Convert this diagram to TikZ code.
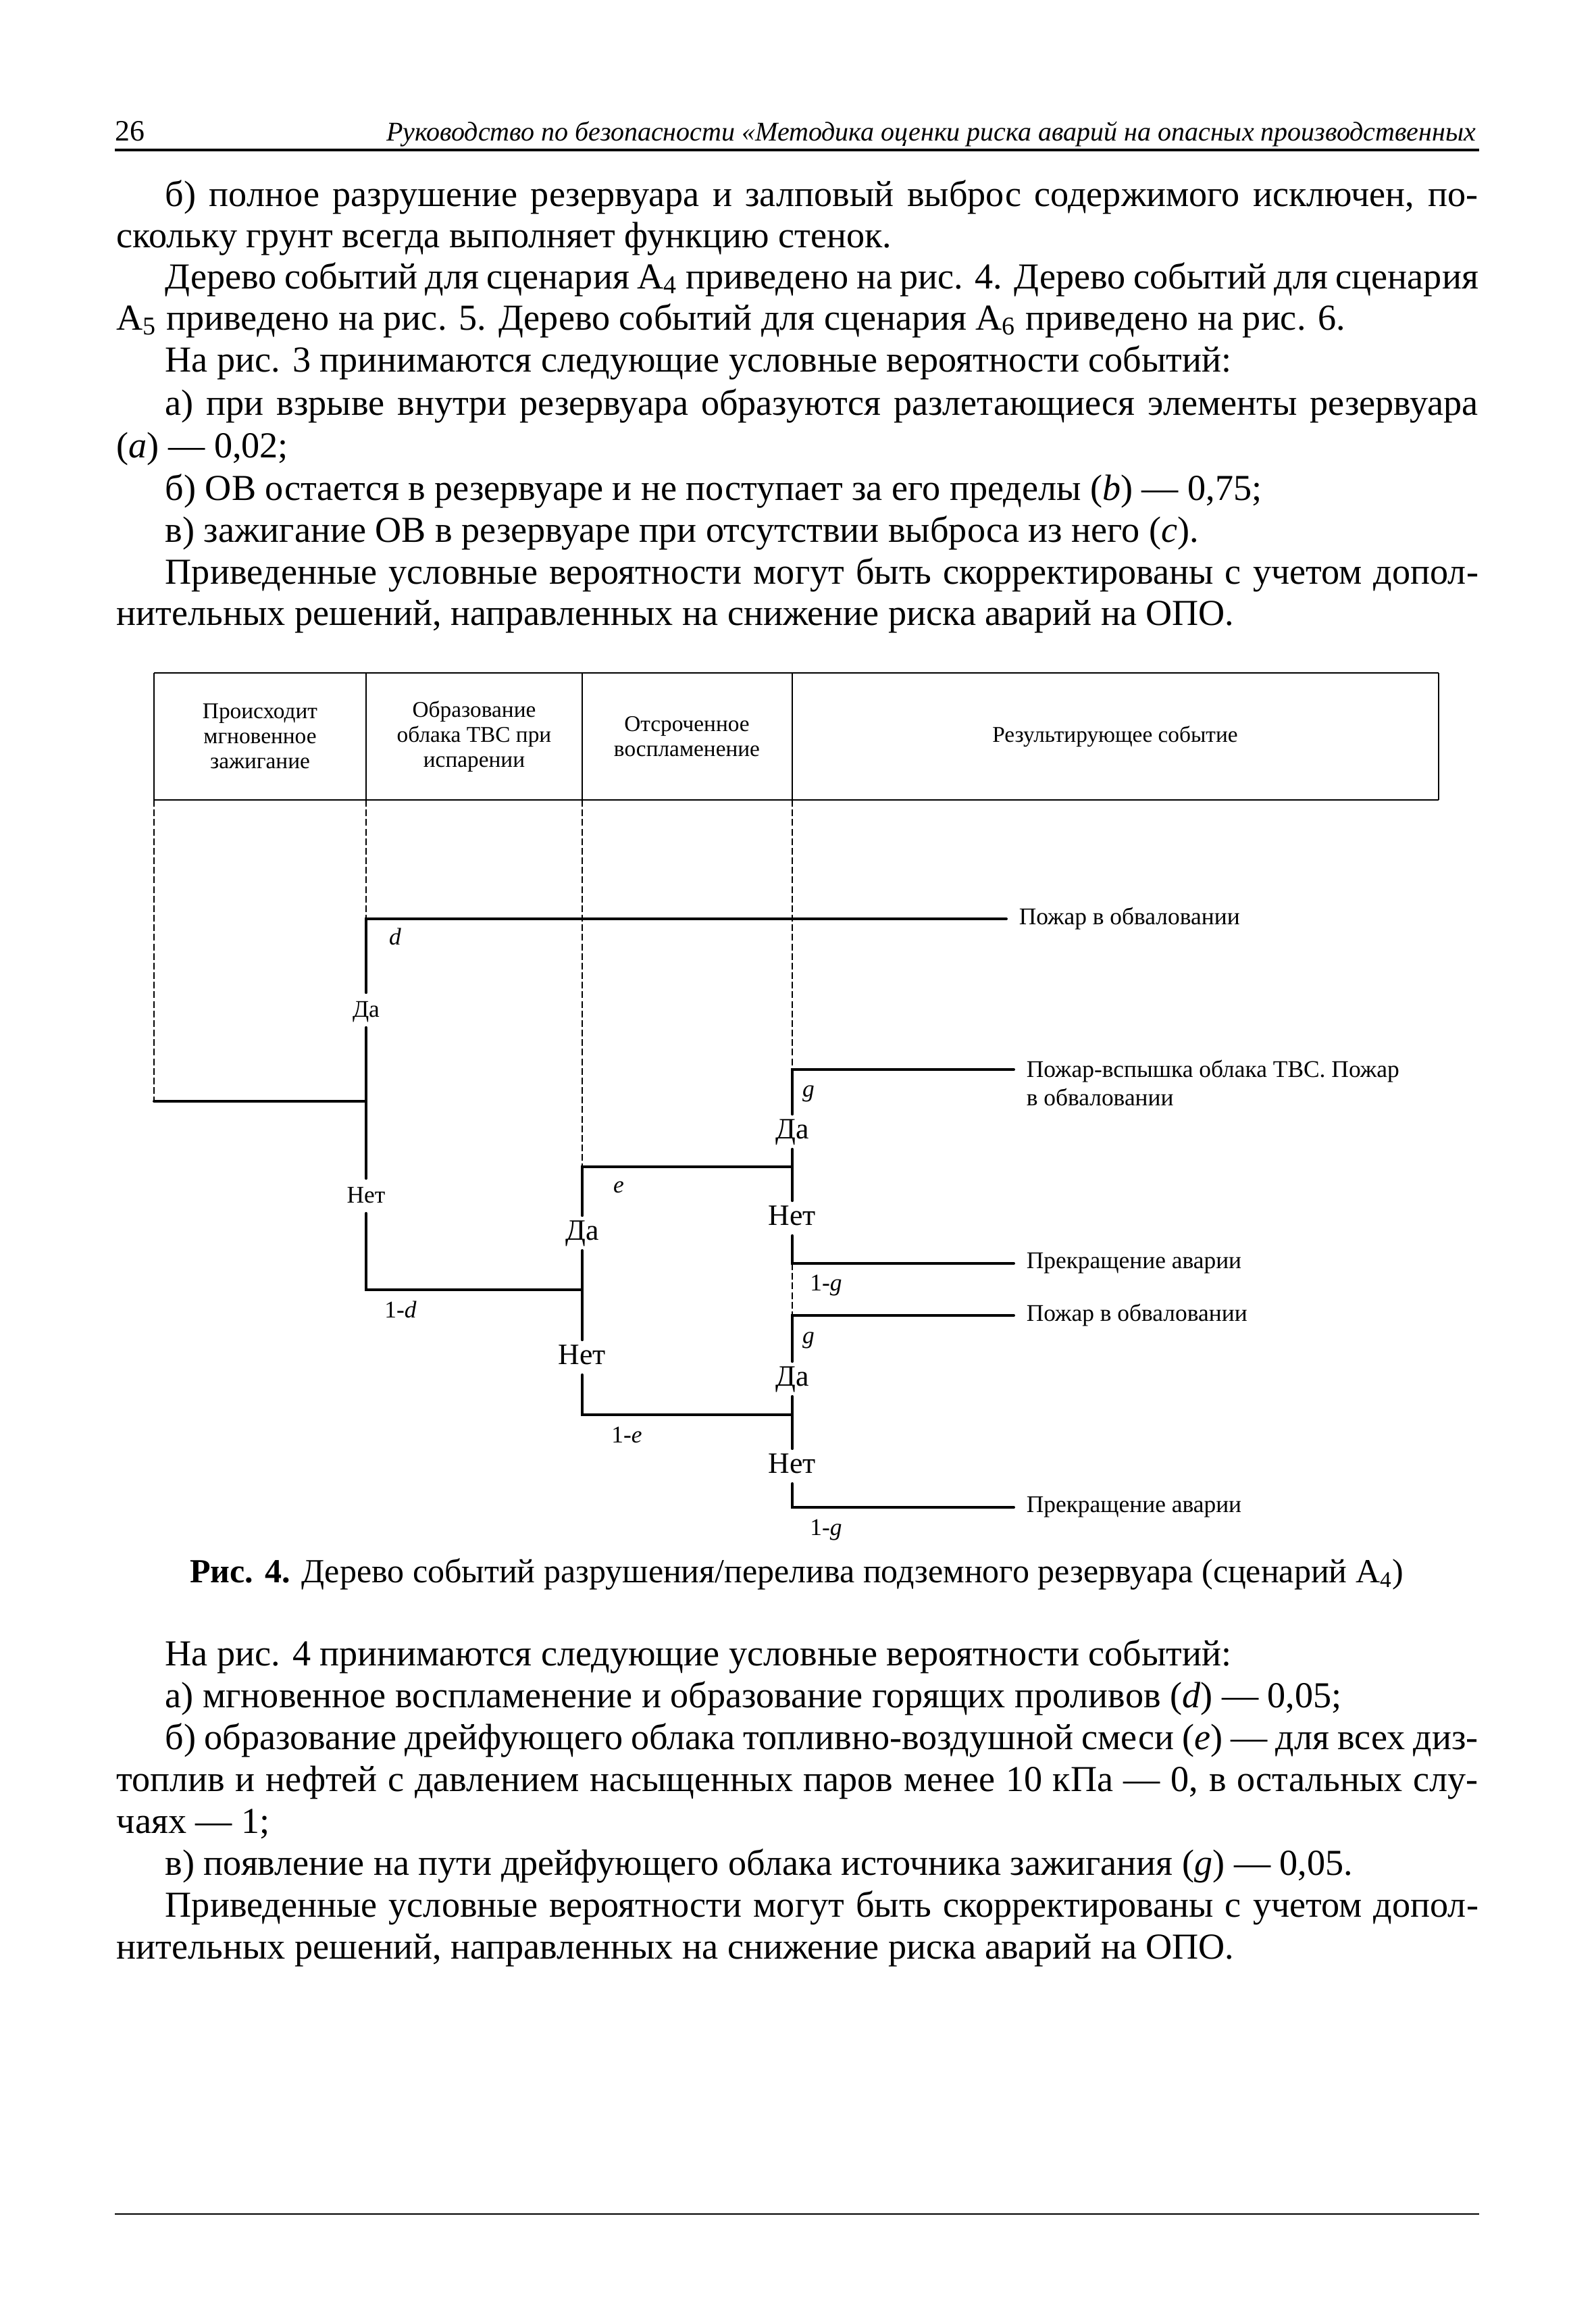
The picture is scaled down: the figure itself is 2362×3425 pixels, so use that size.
\documentclass[tikz,border=0pt]{standalone}
\usepackage{fontspec}
\setmainfont{Liberation Serif}
\newcommand{\fullw}{483.8pt}
\newcommand{\indw}{466.6pt}

\begin{document}
\begin{tikzpicture}[
  x=0.24pt, y=-0.24pt,
  txt/.style={anchor=base west, inner sep=0pt, font=\fontsize{13}{15}\selectfont},
  head/.style={align=center, inner sep=0pt, font=\fontsize{8}{8.9}\selectfont},
  yn/.style={inner sep=1.5pt, text height=0.7em, text depth=0.2em, font=\fontsize{10.5}{12}\selectfont},
  yns/.style={inner sep=1.5pt, text height=0.7em, text depth=0.2em, font=\fontsize{8.5}{10}\selectfont},
  prob/.style={inner sep=0pt, font=\fontsize{8.5}{10}\selectfont},
  res/.style={anchor=west, inner ysep=0pt, inner xsep=4.3pt, align=left, font=\fontsize{8.5}{10}\selectfont},
  branch/.style={line width=0.95pt, line cap=round},
  guide/.style={line width=0.3pt, dash pattern=on 2.4pt off 1pt}
]
\useasboundingbox (0,0) rectangle (2362,3425);

\node[anchor=base west, inner sep=0pt, font=\fontsize{10.5}{12}\selectfont] (pgnum) at (170,208) {26};
\node[anchor=base east, inner sep=0pt, font=\fontsize{9.6}{11}\selectfont\itshape] (runhead) at (2186,208) {Руководство по безопасности «Методика оценки риска аварий на опасных производственных};
\draw[line width=0.8pt] (170,222) -- (2190,222);

\node[txt] (p1) at (244,305) {\makebox[\indw][s]{б) полное разрушение резервуара и залповый выброс содержимого исключен, по-}};
\node[txt] (p2) at (172,366) {скольку грунт всегда выполняет функцию стенок.};
\node[txt] (p3) at (244,427) {\makebox[\indw][s]{Дерево событий для сценария А\textsubscript{4} приведено на рис. 4. Дерево событий для сценария}};
\node[txt] (p4) at (172,488) {А\textsubscript{5} приведено на рис. 5. Дерево событий для сценария А\textsubscript{6} приведено на рис. 6.};
\node[txt] (p5) at (244,550) {На рис. 3 принимаются следующие условные вероятности событий:};
\node[txt] (p6) at (244,614) {\makebox[\indw][s]{а) при взрыве внутри резервуара образуются разлетающиеся элементы резервуара}};
\node[txt] (p7) at (172,677) {(\textit{a}) — 0,02;};
\node[txt] (p8) at (244,740) {б) ОВ остается в резервуаре и не поступает за его пределы (\textit{b}) — 0,75;};
\node[txt] (p9) at (244,802) {в) зажигание ОВ в резервуаре при отсутствии выброса из него (\textit{c}).};
\node[txt] (p10) at (244,864) {\makebox[\indw][s]{Приведенные условные вероятности могут быть скорректированы с учетом допол-}};
\node[txt] (p11) at (172,925) {нительных решений, направленных на снижение риска аварий на ОПО.};

% header of the tree
\node[head] (h1) at (385,1090) {Происходит\\мгновенное\\зажигание};
\node[head] (h2) at (702,1090) {Образование\\облака ТВС при\\испарении};
\node[head] (h3) at (1017,1090) {Отсроченное\\воспламенение};
\node[head] (h4) at (1651,1090) {Результирующее событие};
\draw[line width=0.7pt] (228,996) -- (2130,996);
\draw[line width=0.7pt] (228,1184) -- (2130,1184);
\foreach \xc in {228,542,862,1173,2130}
  \draw[line width=0.4pt] (\xc,996) -- (\xc,1184);

\coordinate (k0) at (228,1184);
\coordinate (k1) at (542,1184);
\coordinate (k2) at (862,1184);
\coordinate (k3) at (1173,1184);

\coordinate (s0) at (228,1630);
\coordinate (j1) at (542,1630);
\coordinate (a1) at (542,1360);
\coordinate (b1) at (542,1909);
\coordinate (j2) at (862,1909);
\coordinate (a2) at (862,1727);
\coordinate (b2) at (862,2094);
\coordinate (j3) at (1173,1727);
\coordinate (j4) at (1173,2094);
\coordinate (a3) at (1173,1583);
\coordinate (b3) at (1173,1870);
\coordinate (a4) at (1173,1947);
\coordinate (b4) at (1173,2231);

\node[res] (e1) at (1490,1360) {Пожар в обваловании};
\node[res] (e2) at (1501,1603) {Пожар-вспышка облака ТВС. Пожар\\в обваловании};
\node[res] (e3) at (1501,1870) {Прекращение аварии};
\node[res] (e4) at (1501,1947) {Пожар в обваловании};
\node[res] (e5) at (1501,2231) {Прекращение аварии};

\node[yns] (y1) at (542,1495) {Да};
\node[yns] (n1) at (542,1770) {Нет};
\node[yn] (y2) at (862,1825) {Да};
\node[yn] (n2) at (862,2009) {Нет};
\node[yn] (y3) at (1173,1675) {Да};
\node[yn] (n3) at (1173,1803) {Нет};
\node[yn] (y4) at (1173,2041) {Да};
\node[yn] (n4) at (1173,2170) {Нет};

\node[prob] (pd) at (585,1386) {\textit{d}};
\node[prob] (pnd) at (593,1938) {1-\textit{d}};
\node[prob] (pe) at (916,1757) {\textit{e}};
\node[prob] (pne) at (928,2124) {1-\textit{e}};
\node[prob] (pg1) at (1197,1619) {\textit{g}};
\node[prob] (png1) at (1223,1903) {1-\textit{g}};
\node[prob] (pg2) at (1197,1984) {\textit{g}};
\node[prob] (png2) at (1223,2265) {1-\textit{g}};

\draw[guide] (k0) -- (s0);
\draw[guide] (k1) -- (a1);
\draw[guide] (k2) -- (a2);
\draw[guide] (k3) -- (a3);
\draw[guide] (b3) -- (a4);

\draw[branch] (s0) -- (j1);
\draw[branch] (e1.west) -- (a1) -- (y1.north);
\draw[branch] (y1.south) -- (n1.north);
\draw[branch] (n1.south) -- (b1) -- (j2);
\draw[branch] (j3) -- (a2) -- (y2.north);
\draw[branch] (y2.south) -- (n2.north);
\draw[branch] (n2.south) -- (b2) -- (j4);
\draw[branch] (e2.west |- a3) -- (a3) -- (y3.north);
\draw[branch] (y3.south) -- (n3.north);
\draw[branch] (n3.south) -- (b3) -- (e3.west);
\draw[branch] (e4.west) -- (a4) -- (y4.north);
\draw[branch] (y4.south) -- (n4.north);
\draw[branch] (n4.south) -- (b4) -- (e5.west);

\node[anchor=base, inner sep=0pt, font=\fontsize{12}{14}\selectfont] (cap) at (1180,2342) {\textbf{Рис. 4.} Дерево событий разрушения/перелива подземного резервуара (сценарий А\textsubscript{4})};

\node[txt] (q1) at (244,2465) {На рис. 4 принимаются следующие условные вероятности событий:};
\node[txt] (q2) at (244,2527) {а) мгновенное воспламенение и образование горящих проливов (\textit{d}) — 0,05;};
\node[txt] (q3) at (244,2589) {\makebox[\indw][s]{б) образование дрейфующего облака топливно-воздушной смеси (\textit{e}) — для всех диз-}};
\node[txt] (q4) at (172,2651) {\makebox[\fullw][s]{топлив и нефтей с давлением насыщенных паров менее 10 кПа — 0, в остальных слу-}};
\node[txt] (q5) at (172,2713) {чаях — 1;};
\node[txt] (q6) at (244,2775) {в) появление на пути дрейфующего облака источника зажигания (\textit{g}) — 0,05.};
\node[txt] (q7) at (244,2837) {\makebox[\indw][s]{Приведенные условные вероятности могут быть скорректированы с учетом допол-}};
\node[txt] (q8) at (172,2899) {нительных решений, направленных на снижение риска аварий на ОПО.};

\draw[line width=0.6pt] (170,3277) -- (2190,3277);
\end{tikzpicture}
\end{document}
